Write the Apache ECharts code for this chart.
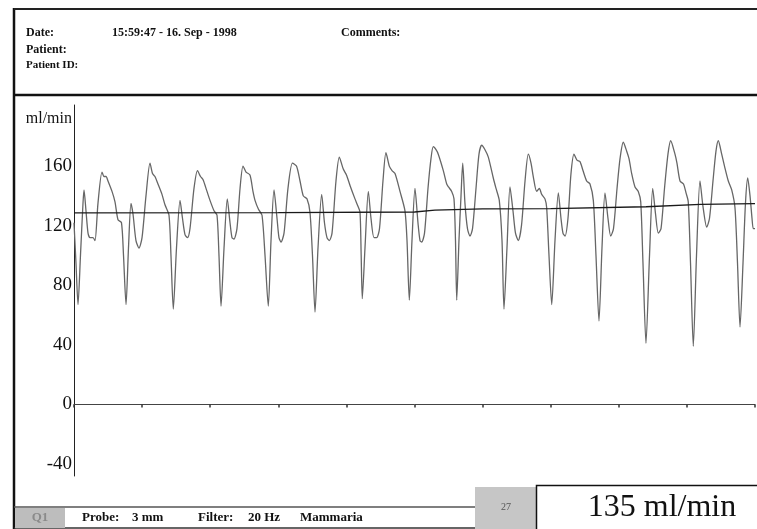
<!DOCTYPE html>
<html>
<head>
<meta charset="utf-8">
<script src="https://cdn.jsdelivr.net/npm/echarts@6/dist/echarts.min.js"></script>
<style>
html,body{margin:0;padding:0;background:#fff;}
#c{width:757px;height:529px;}
</style>
</head>
<body>
<div id="c"></div>
<script>
// ---- data ----
const timeSec = [
0.000,0.029,0.059,0.095,0.132,0.147,0.176,0.206,0.235,0.279,0.308,0.352,0.411,0.441,0.470,0.499,0.558,0.602,0.646,0.697,0.727,0.764,
0.800,0.837,0.866,0.910,0.954,0.999,1.057,1.116,1.153,1.189,1.233,1.292,1.336,1.395,1.424,1.458,
1.505,1.557,1.593,1.630,1.667,1.703,1.762,1.813,1.858,1.894,1.953,1.997,2.056,2.100,2.129,2.159,
2.203,2.251,2.291,2.320,2.349,2.393,2.438,2.482,2.526,2.584,2.628,2.658,2.709,2.761,2.805,2.853,
2.893,2.937,2.981,3.010,3.040,3.084,3.142,3.208,3.267,3.319,3.367,3.421,3.465,3.502,3.539,
3.583,3.637,3.678,3.715,3.749,3.789,3.847,3.896,3.954,4.001,4.053,4.126,4.170,4.200,4.217,4.233,
4.273,4.322,4.361,4.405,4.445,4.486,4.537,4.581,4.630,4.670,4.714,4.787,4.860,4.890,4.924,
4.963,5.007,5.051,5.081,5.106,5.147,5.198,5.242,5.276,5.316,5.349,5.423,5.473,5.499,5.546,5.580,5.602,5.620,
5.653,5.683,5.708,5.741,5.778,5.815,5.852,5.903,5.947,5.987,6.035,6.084,6.157,6.197,6.245,6.285,6.314,
6.358,6.402,6.446,6.483,6.524,6.571,6.623,6.671,6.711,6.744,6.794,6.833,6.868,6.916,6.941,6.975,7.015,
7.063,7.112,7.151,7.180,7.210,7.254,7.298,7.342,7.386,7.430,7.474,7.528,7.577,7.626,7.665,7.709,
7.753,7.797,7.841,7.881,7.922,7.974,8.018,8.066,8.116,8.150,8.189,8.238,8.286,8.322,8.355,8.399,
8.451,8.498,8.539,8.580,8.620,8.671,8.722,8.762,8.825,8.854,8.899,8.950,8.987,9.020,9.053,9.094,
9.141,9.192,9.236,9.291,9.332,9.383,9.427,9.461,9.511,9.552,9.608,9.658,9.706,9.743,9.780,
9.824,9.860,9.893,9.927,9.956,9.975,10.000
];
const flowMlMin = [
122,95,67,100,135,144,130,115,112,112,110,135,156,153,153,150,143,136,124,122,100,67,
105,135,128,110,105,112,140,162,155,153,148,141,134,127,100,64,
105,137,125,114,112,118,145,157,153,151,143,137,130,127,100,66,
105,138,122,112,111,118,145,160,156,154,143,137,131,127,100,66,
110,144,125,112,109,115,145,162,160,150,140,138,129,100,62,
105,141,122,112,110,115,150,166,158,154,147,138,133,129,100,71,
105,143,125,112,112,118,150,169,160,157,155,143,130,110,70,
110,145,122,110,109,115,145,165,173,171,168,157,148,146,143,138,110,70,
110,140,162,135,118,113,118,145,168,174,171,166,152,145,137,110,64,
105,146,130,115,110,120,150,168,162,153,143,145,141,138,132,100,67,
110,142,125,115,113,125,155,168,164,163,157,150,148,137,100,56,
105,142,125,113,118,145,165,176,170,165,155,146,143,136,95,41,
100,145,128,115,118,145,168,177,168,162,150,148,142,136,95,39,
100,150,133,119,125,150,170,177,168,160,150,144,132,95,52,
95,135,152,140,125,118,118
];
const meanTime = [0, 3, 5, 5.3, 6, 7, 8.4, 9.2, 10];
const meanFlow = [128.6, 128.7, 129.2, 130.5, 131.3, 131.5, 132.7, 134.3, 134.8];
const yTickValues = [-40, 0, 40, 80, 120, 160];
const headerDate = "15:59:47 - 16. Sep - 1998";
const displayValue = "135 ml/min";
const beatCount = "27";

// ---- chart ----
const pair = (xs, ys) => xs.slice(0, Math.min(xs.length, ys.length)).map((x, i) => [x, ys[i]]);
const serif = "'Liberation Serif', 'DejaVu Serif', serif";
const hdr = 'bold 12px ' + serif;
const foot = 'bold 13px ' + serif;
const chart = echarts.init(document.getElementById('c'), null, {renderer: 'canvas'});
chart.setOption({
  backgroundColor: '#ffffff',
  animation: false,
  grid: {left: 74, right: 2, top: 105, bottom: 53, containLabel: false},
  xAxis: {
    type: 'value', min: 0, max: 10, interval: 1,
    axisLine: {show: true, onZero: true, lineStyle: {color: '#444', width: 1}},
    axisTick: {show: true, length: 3, lineStyle: {color: '#333', width: 1.5}},
    axisLabel: {show: false},
    splitLine: {show: false}
  },
  yAxis: {
    type: 'value', min: -48, max: 201,
    axisLine: {show: true, lineStyle: {color: '#222', width: 1}},
    axisTick: {show: false},
    splitLine: {show: false},
    axisLabel: {
      customValues: yTickValues, margin: 2,
      fontFamily: serif, fontSize: 19, color: '#111'
    }
  },
  series: [
    {
      type: 'line', data: pair(timeSec, flowMlMin), showSymbol: false, smooth: 0.25,
      lineStyle: {color: '#666', width: 1.3}
    },
    {
      type: 'line', data: pair(meanTime, meanFlow), showSymbol: false,
      lineStyle: {color: '#1a1a1a', width: 1.3}
    }
  ],
  graphic: [
    // outer frame
    {type: 'line', shape: {x1: 14, y1: 8, x2: 14, y2: 529}, style: {stroke: '#111', lineWidth: 2.5}},
    {type: 'line', shape: {x1: 14, y1: 9, x2: 757, y2: 9}, style: {stroke: '#222', lineWidth: 2}},
    {type: 'line', shape: {x1: 14, y1: 95, x2: 757, y2: 95}, style: {stroke: '#111', lineWidth: 2.5}},
    // header text
    {type: 'text', x: 26, y: 33, style: {text: 'Date:', font: hdr, fill: '#111', textVerticalAlign: 'middle'}},
    {type: 'text', x: 112, y: 33, style: {text: headerDate, font: hdr, fill: '#111', textVerticalAlign: 'middle'}},
    {type: 'text', x: 341, y: 33, style: {text: 'Comments:', font: hdr, fill: '#111', textVerticalAlign: 'middle'}},
    {type: 'text', x: 26, y: 50, style: {text: 'Patient:', font: hdr, fill: '#111', textVerticalAlign: 'middle'}},
    {type: 'text', x: 26, y: 65, style: {text: 'Patient ID:', font: 'bold 11px ' + serif, fill: '#111', textVerticalAlign: 'middle'}},
    // y unit
    {type: 'text', x: 72, y: 119, style: {text: 'ml/min', font: '16px ' + serif, fill: '#111', textAlign: 'right', textVerticalAlign: 'middle'}},
    // bottom strip
    {type: 'line', shape: {x1: 14, y1: 507, x2: 475, y2: 507}, style: {stroke: '#555', lineWidth: 1.5}},
    {type: 'line', shape: {x1: 14, y1: 528, x2: 757, y2: 528}, style: {stroke: '#333', lineWidth: 1.5}},
    {type: 'rect', shape: {x: 15, y: 508, width: 50, height: 20}, style: {fill: '#bdbdbd'}},
    {type: 'text', x: 40, y: 518, style: {text: 'Q1', font: 'bold 13px ' + serif, fill: '#8a8a8a', textAlign: 'center', textVerticalAlign: 'middle'}},
    {type: 'text', x: 82, y: 518, style: {text: 'Probe:', font: foot, fill: '#111', textVerticalAlign: 'middle'}},
    {type: 'text', x: 132, y: 518, style: {text: '3 mm', font: foot, fill: '#111', textVerticalAlign: 'middle'}},
    {type: 'text', x: 198, y: 518, style: {text: 'Filter:', font: foot, fill: '#111', textVerticalAlign: 'middle'}},
    {type: 'text', x: 248, y: 518, style: {text: '20 Hz', font: foot, fill: '#111', textVerticalAlign: 'middle'}},
    {type: 'text', x: 300, y: 518, style: {text: 'Mammaria', font: foot, fill: '#111', textVerticalAlign: 'middle'}},
    {type: 'rect', shape: {x: 475, y: 487, width: 61, height: 42}, style: {fill: '#c6c6c6'}},
    {type: 'text', x: 506, y: 507, style: {text: beatCount, font: '10px ' + serif, fill: '#555', textAlign: 'center', textVerticalAlign: 'middle'}},
    {type: 'rect', shape: {x: 536.5, y: 485.5, width: 230, height: 50}, style: {fill: '#fff', stroke: '#111', lineWidth: 1.5}},
    {type: 'text', x: 662, y: 508, style: {text: displayValue, font: '32px ' + serif, fill: '#111', textAlign: 'center', textVerticalAlign: 'middle'}}
  ]
});
</script>
</body>
</html>
